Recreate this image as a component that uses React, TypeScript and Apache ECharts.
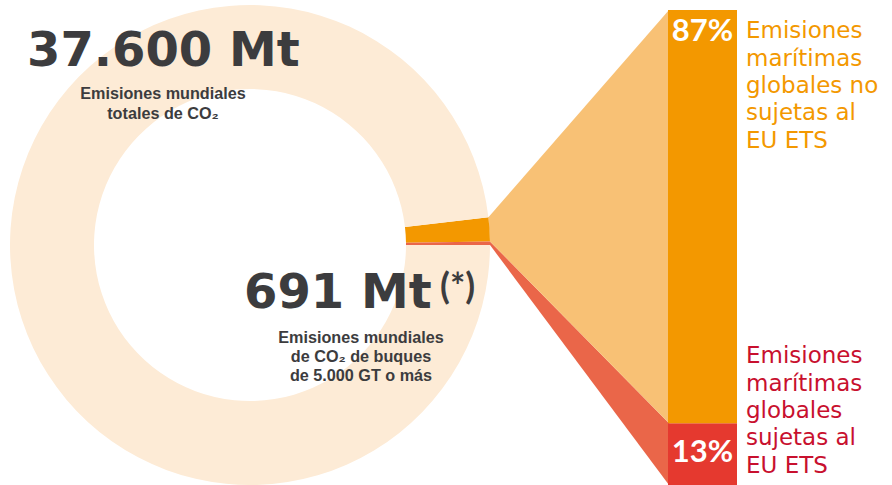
import React, { useEffect, useRef } from "react";
import * as echarts from "echarts";

// ---- data ----
const totalEmissions = 37600; // Mt CO2 world
const shipEmissions = 691; // Mt CO2 ships >= 5000 GT
const shareNames = ["Sujetas al EU ETS", "No sujetas al EU ETS"]; // bottom -> top
const shareValues = [13, 87]; // %
const shareBarColors = ["#E5392F", "#F39800"];
const shareFunnelColors = ["#EA6649", "#F8C175"];
const ringColor = "#FDEBD6";

const W = 892;
const H = 485;
const PIE_C = [250, 245];
const PIE_R = [156, 240];

export default function App() {
  const ref = useRef<HTMLDivElement>(null);
  useEffect(() => {
    if (!ref.current) return;
    const chart = echarts.init(ref.current, undefined, { renderer: "svg", width: W, height: H });
    const sliceAngle = (360 * shipEmissions) / totalEmissions;

    // pie data: orange (not covered), red (covered), rest
    const pieData = [
      { name: shareNames[1], value: (shipEmissions * shareValues[1]) / 100, itemStyle: { color: shareBarColors[1] } },
      { name: shareNames[0], value: (shipEmissions * shareValues[0]) / 100, itemStyle: { color: shareFunnelColors[0] } },
      { name: "Resto", value: totalEmissions - shipEmissions, itemStyle: { color: ringColor } },
    ];

    // funnel data: [x, lower %, upper %]
    const funnelData: number[][] = [];
    let acc = 0;
    shareValues.forEach((v) => {
      funnelData.push([0, acc, acc + v]);
      acc += v;
    });

    const sliceRad = (sliceAngle * Math.PI) / 180;
    const piePoint = (pct: number) => {
      const a = (pct / 100) * sliceRad;
      return [PIE_C[0] + PIE_R[1] * Math.cos(a), PIE_C[1] - PIE_R[1] * Math.sin(a)];
    };

    const titleFont = "DejaVu Sans";
    const subFont = "Liberation Sans";
    const dark = "#3C3C3E";

    chart.setOption({
      animation: false,
      grid: { left: 668, top: 10, width: 69, bottom: 0 },
      xAxis: { type: "category", data: ["EU ETS"], show: false },
      yAxis: { type: "value", min: 0, max: 100, show: false },
      series: [
        {
          type: "pie",
          center: PIE_C,
          radius: PIE_R,
          startAngle: sliceAngle,
          clockwise: true,
          silent: true,
          label: { show: false },
          labelLine: { show: false },
          emphasis: { disabled: true },
          data: pieData,
          z: 1,
        },
        {
          type: "custom",
          coordinateSystem: "cartesian2d",
          silent: true,
          z: 1,
          data: funnelData,
          renderItem: (params: any, api: any) => {
            const lo = api.value(1);
            const hi = api.value(2);
            const bw = api.size([1, 0])[0];
            const xl = api.coord([0, lo])[0] - bw / 2;
            const yLo = api.coord([0, lo])[1];
            const yHi = api.coord([0, hi])[1];
            const pLo = piePoint(lo);
            const pHi = piePoint(hi);
            return {
              type: "polygon",
              shape: { points: [pLo, pHi, [xl + 1, yHi], [xl + 1, yLo]] },
              style: { fill: shareFunnelColors[params.dataIndex] },
            };
          },
        },
        {
          type: "bar",
          name: shareNames[0],
          stack: "s",
          barWidth: "100%",
          silent: true,
          z: 3,
          data: [shareValues[0]],
          itemStyle: { color: shareBarColors[0] },
          label: {
            show: true,
            position: "insideBottom",
            distance: 20,
            formatter: "{c}%",
            color: "#fff",
            fontFamily: "Lato",
            fontWeight: "bold",
            fontSize: 31,
          },
        },
        {
          type: "bar",
          name: shareNames[1],
          stack: "s",
          barWidth: "100%",
          silent: true,
          z: 3,
          data: [shareValues[1]],
          itemStyle: { color: shareBarColors[1] },
          label: {
            show: true,
            position: "insideTop",
            distance: 3,
            formatter: "{c}%",
            color: "#fff",
            fontFamily: "Lato",
            fontWeight: "bold",
            fontSize: 31,
          },
        },
      ],
      graphic: [
        {
          type: "text",
          z: 10,
          style: {
            text: "37.600 Mt",
            x: 27,
            y: 49,
            textAlign: "left",
            textVerticalAlign: "middle",
            fontFamily: titleFont,
            fontWeight: "bold",
            fontSize: 48,
            fill: dark,
          },
        },
        {
          type: "text",
          z: 10,
          style: {
            text: "Emisiones mundiales\ntotales de CO₂",
            x: 163,
            y: 103,
            textAlign: "center",
            textVerticalAlign: "middle",
            fontFamily: subFont,
            fontWeight: "bold",
            fontSize: 16.2,
            lineHeight: 20,
            fill: dark,
          },
        },
        {
          type: "text",
          z: 10,
          style: {
            text: "691 Mt",
            x: 244,
            y: 291,
            textAlign: "left",
            textVerticalAlign: "middle",
            fontFamily: titleFont,
            fontWeight: "bold",
            fontSize: 48,
            fill: dark,
          },
        },
        {
          type: "text",
          z: 10,
          style: {
            text: "(*)",
            x: 440,
            y: 285,
            textAlign: "left",
            textVerticalAlign: "middle",
            fontFamily: "Lato",
            fontWeight: "bold",
            fontSize: 36,
            fill: dark,
          },
        },
        {
          type: "text",
          z: 10,
          style: {
            text: "Emisiones mundiales\nde CO₂ de buques\nde 5.000 GT o más",
            x: 361,
            y: 356,
            textAlign: "center",
            textVerticalAlign: "middle",
            fontFamily: subFont,
            fontWeight: "bold",
            fontSize: 16.2,
            lineHeight: 19,
            fill: dark,
          },
        },
        {
          type: "text",
          z: 10,
          style: {
            text: "Emisiones\nmarítimas\nglobales no\nsujetas al\nEU ETS",
            x: 746,
            y: 85,
            textAlign: "left",
            textVerticalAlign: "middle",
            fontFamily: "DejaVu Sans",
            fontSize: 23,
            lineHeight: 27.3,
            fill: "#F39800",
          },
        },
        {
          type: "text",
          z: 10,
          style: {
            text: "Emisiones\nmarítimas\nglobales\nsujetas al\nEU ETS",
            x: 746,
            y: 410,
            textAlign: "left",
            textVerticalAlign: "middle",
            fontFamily: "DejaVu Sans",
            fontSize: 23,
            lineHeight: 27.3,
            fill: "#C8102E",
          },
        },
      ],
    });
    return () => chart.dispose();
  }, []);
  return (
    <div
      ref={ref}
      style={{ position: "fixed", left: 0, top: 0, width: W, height: H, background: "#fff" }}
    />
  );
}
